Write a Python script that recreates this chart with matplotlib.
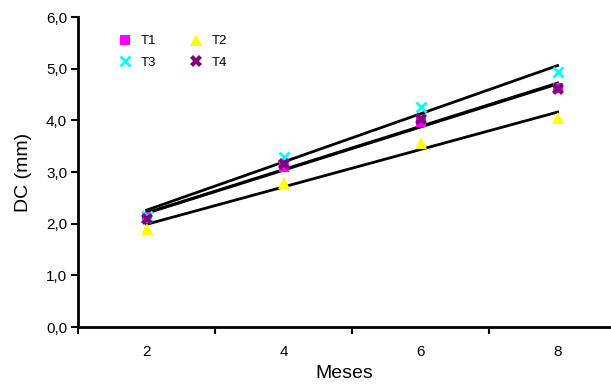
import matplotlib
matplotlib.use('Agg')
import matplotlib.pyplot as plt
from matplotlib.ticker import FixedLocator, FuncFormatter
import numpy as np

plt.rcParams['font.family'] = ['Liberation Sans', 'DejaVu Sans']

meses = [2, 4, 6, 8]
t1 = [2.13, 3.10, 3.97, 4.62]
t2 = [1.90, 2.78, 3.57, 4.05]
t3 = [2.15, 3.30, 4.26, 4.94]
t4 = [2.10, 3.15, 4.02, 4.60]

fig = plt.figure(figsize=(6.11, 3.85), dpi=100)
ax = fig.add_axes([0.128, 0.1506, 0.872, 0.805])

series = [
    ('T1', t1, dict(marker='s', color='#FF00FF', ms=7, mew=0)),
    ('T2', t2, dict(marker='^', color='#FFFF00', ms=8, mew=0)),
    ('T3', t3, dict(marker='x', color='#00FFFF', ms=7, mew=2)),
    ('T4', t4, dict(marker='X', color='#800080', ms=8, mew=0)),
]

x = np.array(meses)
handles = {}
for name, vals, style in series:
    h, = ax.plot(x, vals, linestyle='none', label=name, **style, zorder=3)
    handles[name] = h
    # linear trend line for each treatment
    k, b = np.polyfit(x, vals, 1)
    ax.plot(x[[0, -1]], k * x[[0, -1]] + b, color='black', lw=2, zorder=2)

ax.set_xlim(1, 8.78)
ax.set_ylim(0, 6)
ax.set_xticks(meses)
ax.xaxis.set_minor_locator(FixedLocator([1, 3, 5, 7]))
ax.tick_params(axis='x', which='major', length=0, pad=13, labelsize=11)
ax.tick_params(axis='x', which='minor', length=5, width=1.5, direction='out')
ax.set_yticks(np.arange(0, 6.1, 1))
ax.yaxis.set_major_formatter(FuncFormatter(lambda v, p: f'{v:.1f}'.replace('.', ',')))
ax.tick_params(axis='y', length=5, width=1.5, direction='out', labelsize=11, pad=3)

for s in ['top', 'right']:
    ax.spines[s].set_visible(False)
for s in ['left', 'bottom']:
    ax.spines[s].set_linewidth(2)

ax.set_xlabel('Meses', fontsize=14, labelpad=4)
ax.set_ylabel('DC (mm)', fontsize=14, labelpad=10)

order = ['T1', 'T3', 'T2', 'T4']
ax.legend([handles[n] for n in order], order, ncol=2, frameon=False,
          fontsize=9.5, loc='upper left', bbox_to_anchor=(0.05, 0.98),
          handletextpad=0.5, columnspacing=2.4, labelspacing=0.7,
          handlelength=1.3)

fig.savefig('out.png', dpi=100)
